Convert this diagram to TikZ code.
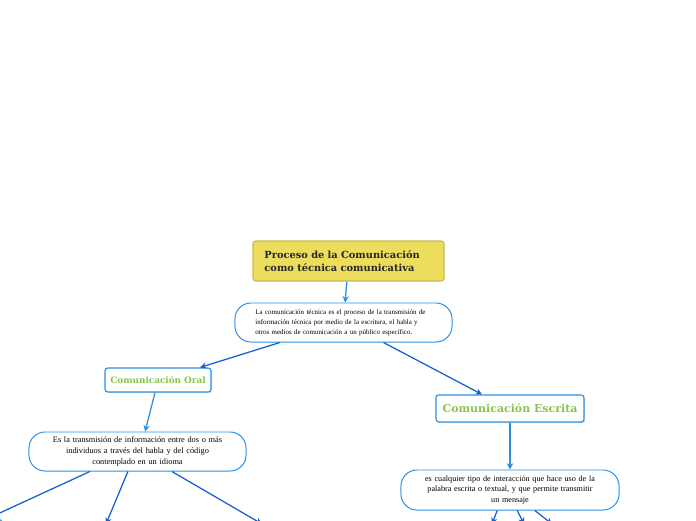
\documentclass[tikz,border=0pt]{standalone}
\usepackage{fontspec}
\setmainfont{Liberation Serif}
\newfontfamily\slabfont{DejaVu Serif}
\usetikzlibrary{arrows.meta,shadows}

\definecolor{titlefill}{RGB}{236,221,92}
\definecolor{titleline}{RGB}{200,186,82}
\definecolor{lightblue}{RGB}{40,145,230}
\definecolor{darkblue}{RGB}{25,95,210}
\definecolor{headgreen}{RGB}{140,195,75}

\begin{document}
\begin{tikzpicture}[x=0.025cm, y=-0.025cm, >={Stealth[length=4.5pt,width=4.5pt]}, line width=0.9pt,
    titlebox/.style={draw=titleline, fill=titlefill, rounded corners=2pt, line width=0.8pt,
      minimum width=4.775cm, minimum height=1cm, inner sep=0pt, text width=4.2cm, align=left,
      font=\slabfont\bfseries\fontsize{7}{9.6}\selectfont, text=black!85},
    descbox/.style={draw=lightblue, fill=white, rounded corners=0.4cm, line width=0.7pt,
      minimum width=5.425cm, minimum height=0.975cm, inner sep=0pt},
    headbox/.style={draw=lightblue, fill=white, rounded corners=2pt, line width=0.8pt,
      drop shadow={opacity=0.25, shadow xshift=0.8pt, shadow yshift=-0.8pt},
      inner sep=0pt, text=headgreen},
    light/.style={->, lightblue},
    dark/.style={->, darkblue}]

    % Marco del dibujo
    \useasboundingbox (0,0) rectangle (696,520);
    \clip (0,0) rectangle (696,520);

    % Nodo principal
    \node[titlebox] (titulo) at (348.5,261) {Proceso de la Comunicación\\como técnica comunicativa};

    % Definición general
    \node[descbox, text width=4.4cm, align=left, font=\fontsize{4.95}{7.1}\selectfont] (def) at (343.5,322.5)
      {La comunicación técnica es el proceso de la transmisión de\\información técnica por medio de la escritura, el habla y\\otros medios de comunicación a un público específico.};

    % Ramas
    \node[headbox, minimum width=2.65cm, minimum height=0.6cm, font=\slabfont\bfseries\fontsize{6.3}{8}\selectfont] (oral) at (158,380) {Comunicación Oral};
    \node[headbox, minimum width=3.7cm, minimum height=0.675cm, font=\slabfont\bfseries\fontsize{7.8}{9}\selectfont] (escrita) at (510,408.5) {Comunicación Escrita};

    % Descripciones de las ramas
    \node[descbox, text width=4.6cm, align=center, font=\fontsize{5.9}{7.8}\selectfont] (oraldef) at (137.5,451.5)
      {Es la transmisión de información entre dos o más\\individuos a través del habla y del código\\contemplado en un idioma};
    \node[descbox, minimum width=5.45cm, minimum height=1cm, text width=4.7cm, align=center, font=\fontsize{5.8}{7.6}\selectfont] (escritadef) at (510,490)
      {es cualquier tipo de interacción que hace uso de la\\palabra escrita o textual, y que permite transmitir\\un mensaje};

    % Nodo cortado abajo a la izquierda
    \node[descbox, anchor=north east, minimum width=2.6cm, minimum height=0.9cm] (oralA) at (7,516) {};

    % Extremos fuera del dibujo
    \coordinate (oralB) at (106,524);
    \coordinate (oralC) at (262,524);
    \coordinate (escA) at (492,524);
    \coordinate (escB) at (524,524);
    \coordinate (escC) at (552,524);
    \coordinate (oralAtop) at (-9,517);

    % Conectores
    \draw[light] (titulo) -- (def);
    \draw[dark] ([xshift=-1.59cm]def.south) -- ([xshift=1.05cm]oral.north);
    \draw[dark] ([xshift=1cm]def.south) -- ([xshift=-0.7cm]escrita.north);
    \draw[light] ([xshift=-0.075cm]oral.south) -- ([xshift=0.19cm]oraldef.north);
    \draw[light] (escrita) -- (escritadef);
    \draw[dark] ([xshift=-1.19cm]oraldef.south) -- (oralAtop);
    \draw[dark] ([xshift=-0.24cm]oraldef.south) -- (oralB);
    \draw[dark] ([xshift=0.86cm]oraldef.south) -- (oralC);
    \draw[dark] ([xshift=-0.32cm]escritadef.south) -- (escA);
    \draw[dark] ([xshift=0.18cm]escritadef.south) -- (escB);
    \draw[dark] ([xshift=0.62cm]escritadef.south) -- (escC);

\end{tikzpicture}
\end{document}
